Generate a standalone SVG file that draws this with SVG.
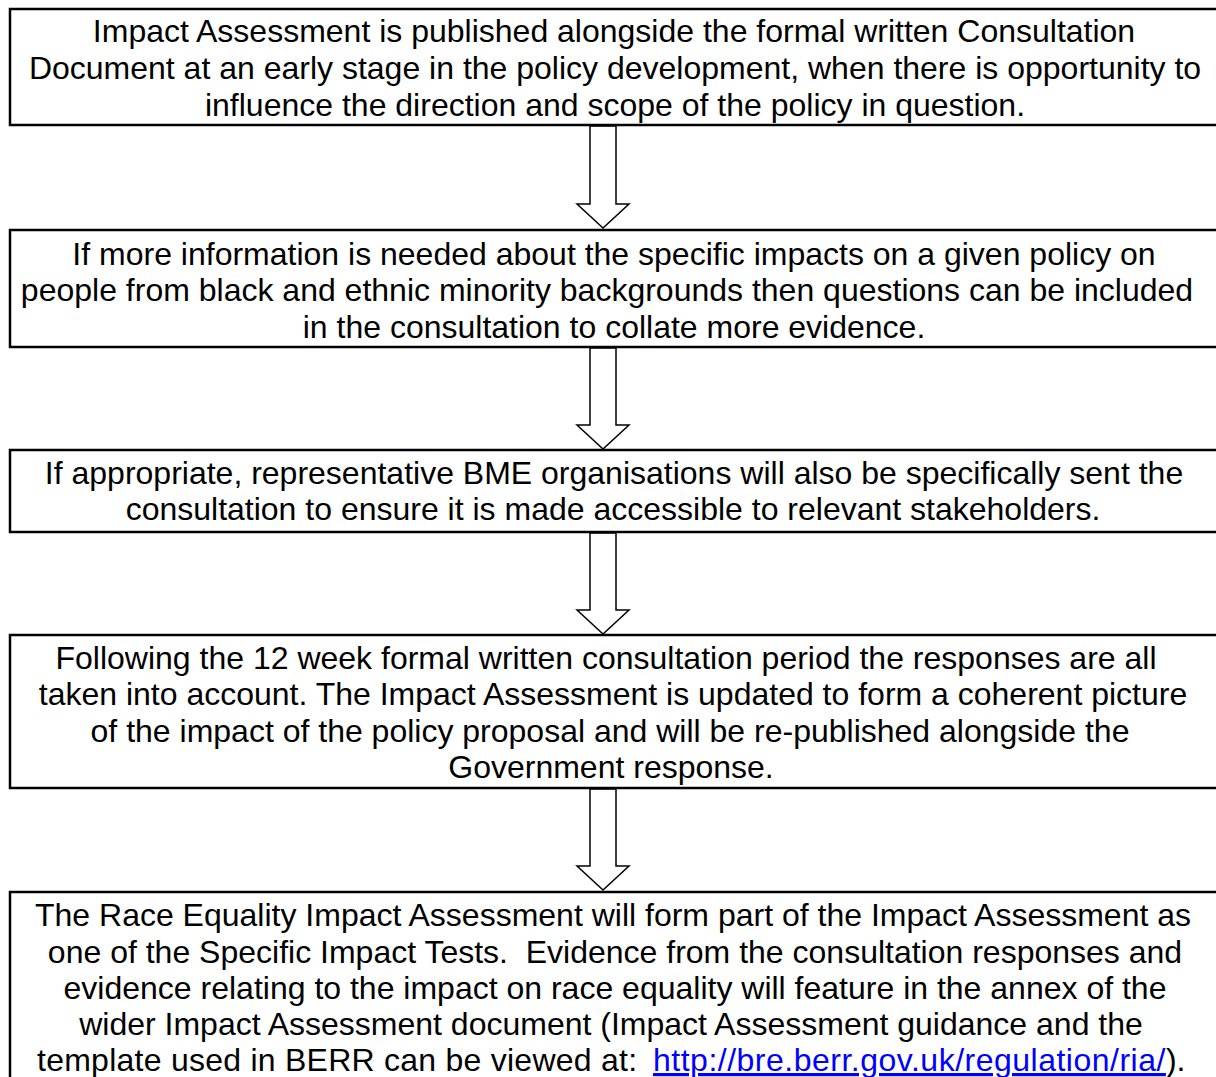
<svg xmlns="http://www.w3.org/2000/svg" width="1216" height="1077" viewBox="0 0 1216 1077">
<style>
.box{fill:#fff;stroke:#000;stroke-width:2.5}
.arr{fill:#fff;stroke:#000;stroke-width:1.5;stroke-linejoin:miter}
text{font-family:"Liberation Sans",Arial,sans-serif;font-size:32px;fill:#000;text-anchor:middle}
.link{fill:#0000ff;text-decoration:underline}
</style>
<rect width="1216" height="1077" fill="#fff"/>
<g id="connectors">
<path class="arr" d="M590,126 L616,126 L616,204 L629,204 L603,228 L577,204 L590,204 Z"/>
<path class="arr" d="M590,348 L616,348 L616,425 L629,425 L603,449 L577,425 L590,425 Z"/>
<path class="arr" d="M590,533 L616,533 L616,610 L629,610 L603,634 L577,610 L590,610 Z"/>
<path class="arr" d="M590,789 L616,789 L616,866 L629,866 L603,890 L577,866 L590,866 Z"/>
</g>
<g id="node1">
<rect class="box" x="10" y="9" width="1212" height="116"/>
<text x="614" y="42">Impact Assessment is published alongside the formal written Consultation</text>
<text x="615" y="79">Document at an early stage in the policy development, when there is opportunity to</text>
<text x="615" y="116">influence the direction and scope of the policy in question.</text>
</g>
<g id="node2">
<rect class="box" x="10" y="230" width="1212" height="117"/>
<text x="614" y="265">If more information is needed about the specific impacts on a given policy on</text>
<text x="607" y="301">people from black and ethnic minority backgrounds then questions can be included</text>
<text x="614" y="338">in the consultation to collate more evidence.</text>
</g>
<g id="node3">
<rect class="box" x="10" y="450" width="1212" height="82"/>
<text x="614" y="484">If appropriate, representative BME organisations will also be specifically sent the</text>
<text x="613" y="520">consultation to ensure it is made accessible to relevant stakeholders.</text>
</g>
<g id="node4">
<rect class="box" x="10" y="635" width="1212" height="153"/>
<text x="606" y="669">Following the 12 week formal written consultation period the responses are all</text>
<text x="613" y="705">taken into account. The Impact Assessment is updated to form a coherent picture</text>
<text x="610" y="742">of the impact of the policy proposal and will be re-published alongside the</text>
<text x="611" y="778">Government response.</text>
</g>
<g id="node5">
<rect class="box" x="10" y="892" width="1212" height="200"/>
<text x="613" y="926">The Race Equality Impact Assessment will form part of the Impact Assessment as</text>
<text x="615" y="963" xml:space="preserve">one of the Specific Impact Tests.  Evidence from the consultation responses and</text>
<text x="615" y="999">evidence relating to the impact on race equality will feature in the annex of the</text>
<text x="611" y="1035">wider Impact Assessment document (Impact Assessment guidance and the</text>
<text x="37" y="1071" style="text-anchor:start" xml:space="preserve"><tspan letter-spacing="0.25">template used in BERR can be viewed at: </tspan><tspan x="653" class="link" letter-spacing="0.5">http://bre.berr.gov.uk/regulation/ria/</tspan><tspan>).</tspan></text>
</g>
</svg>
